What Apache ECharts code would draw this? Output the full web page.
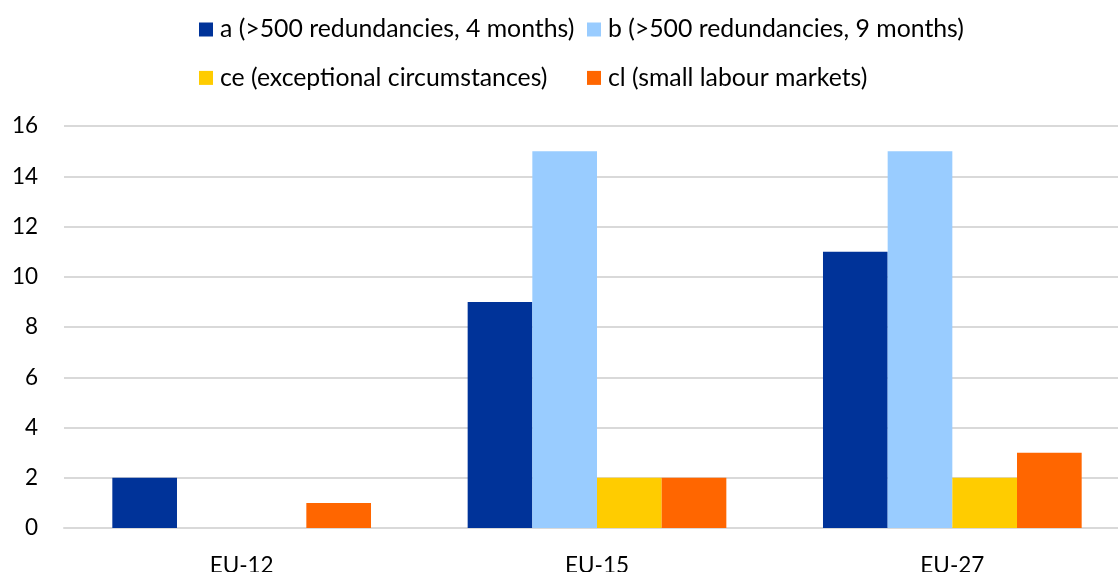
<!DOCTYPE html>
<html><head><meta charset="utf-8">
<script src="https://cdn.jsdelivr.net/npm/echarts@6/dist/echarts.min.js"></script>
<style>html,body{margin:0;padding:0;background:#fff}#c{width:1118px;height:572px}</style>
</head><body><div id="c"></div>
<script>
const categories = ['EU-12', 'EU-15', 'EU-27'];
const seriesNames = ['a (>500 redundancies, 4 months)', 'b (>500 redundancies, 9 months)', 'ce (exceptional circumstances)', 'cl (small labour markets)'];
const valuesA = [2, 9, 11];
const valuesB = [0, 15, 15];
const valuesCE = [0, 2, 2];
const valuesCL = [1, 2, 3];
const yTicks = [0, 2, 4, 6, 8, 10, 12, 14, 16];

const colors = ['#003399', '#99CCFF', '#FFCC00', '#FF6600'];
const font = 'Lato';
const chart = echarts.init(document.getElementById('c'), null, {renderer: 'canvas'});
const legendPos = [[199, 17], [587, 17], [199, 65.4], [587, 65.4]];
const legends = seriesNames.map((n, i) => ({
  data: [n], left: legendPos[i][0], top: legendPos[i][1], padding: 0,
  icon: 'rect', itemWidth: 14, itemHeight: 14, itemGap: 0,
  textStyle: {fontFamily: font, fontSize: 24.8, color: '#000', padding: [0, 0, 0, 2]},
  selectedMode: false
}));
const vals = [valuesA, valuesB, valuesCE, valuesCL];
chart.setOption({
  animation: false,
  color: colors,
  legend: legends,
  grid: {left: 64, top: 126, width: 1066, height: 402, containLabel: false, outerBoundsMode: 'none'},
  xAxis: {
    type: 'category', data: categories,
    axisLine: {show: true, lineStyle: {color: '#d9d9d9', width: 2}},
    axisTick: {show: false},
    axisLabel: {fontFamily: font, fontSize: 22.5, color: '#000', margin: 26}
  },
  yAxis: {
    type: 'value', min: yTicks[0], max: yTicks[yTicks.length - 1], interval: 2,
    axisLine: {show: false}, axisTick: {show: false},
    splitLine: {lineStyle: {color: '#d9d9d9', width: 2}},
    axisLabel: {fontFamily: font, fontSize: 22.5, color: '#000', margin: 26}
  },
  series: seriesNames.map((n, i) => ({
    name: n, type: 'bar', data: vals[i], barGap: '0%', barCategoryGap: '27.2%'
  }))
});
</script></body></html>
